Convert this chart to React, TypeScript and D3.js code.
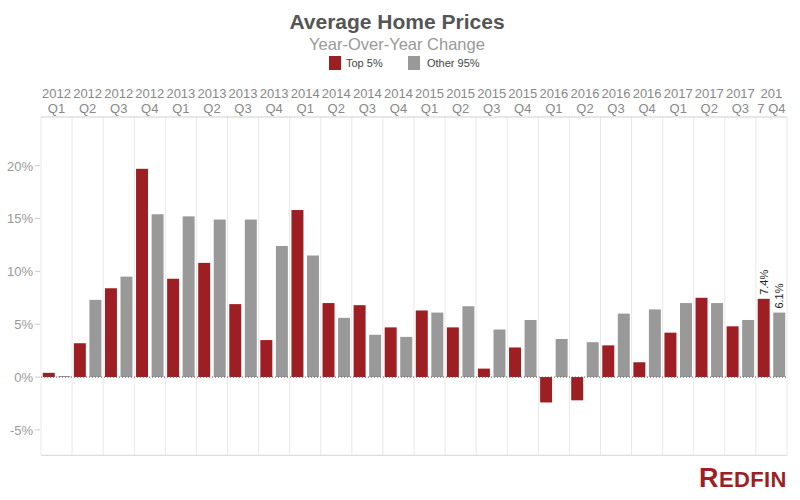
import React from "react";
import * as d3 from "d3";

const periods = ["2012Q1","2012Q2","2012Q3","2012Q4","2013Q1","2013Q2","2013Q3","2013Q4","2014Q1","2014Q2","2014Q3","2014Q4","2015Q1","2015Q2","2015Q3","2015Q4","2016Q1","2016Q2","2016Q3","2016Q4","2017Q1","2017Q2","2017Q3","2017Q4"];
const yearLabels = ["2012","2012","2012","2012","2013","2013","2013","2013","2014","2014","2014","2014","2015","2015","2015","2015","2016","2016","2016","2016","2017","2017","2017","201"];
const quarterLabels = ["Q1","Q2","Q3","Q4","Q1","Q2","Q3","Q4","Q1","Q2","Q3","Q4","Q1","Q2","Q3","Q4","Q1","Q2","Q3","Q4","Q1","Q2","Q3","7 Q4"];
const top5 = [0.4, 3.2, 8.4, 19.7, 9.3, 10.8, 6.9, 3.5, 15.8, 7.0, 6.8, 4.7, 6.3, 4.7, 0.8, 2.8, -2.4, -2.2, 3.0, 1.4, 4.2, 7.5, 4.8, 7.4];
const other95 = [0.1, 7.3, 9.5, 15.4, 15.2, 14.9, 14.9, 12.4, 11.5, 5.6, 4.0, 3.8, 6.1, 6.7, 4.5, 5.4, 3.6, 3.3, 6.0, 6.4, 7.0, 7.0, 5.4, 6.1];
const series = ["Top 5%", "Other 95%"];
const yTicks = [-5, 0, 5, 10, 15, 20];
const labeledIndex = 23;

const RED = "#9e1f23";
const GRAY = "#999999";
const FONT = "'Liberation Sans', Arial, sans-serif";

export default function App() {
  const left = 41, right = 787, top = 117, bottom = 455.3;
  const x = d3.scaleBand<string>().domain(periods).range([left, right]).paddingInner(0).paddingOuter(0);
  const xs = d3.scaleBand<string>().domain(series).range([0, x.bandwidth()]).paddingInner(0.23).paddingOuter(0.115);
  const y = d3.scaleLinear().domain([-7.4, 24.6]).range([bottom, top]);
  const y0 = y(0);
  const values = [top5, other95];
  const colors = [RED, GRAY];

  return (
    <svg width={800} height={500} style={{ position: "absolute", left: 0, top: 0, background: "#fff" }} fontFamily={FONT}>
      <text x={397} y={29} textAnchor="middle" fontSize={21} fontWeight="bold" fill="#555">Average Home Prices</text>
      <text x={397} y={50} textAnchor="middle" fontSize={16.5} fill="#999">Year-Over-Year Change</text>
      {/* legend */}
      <rect x={329} y={56} width={12} height={14} fill={RED} />
      <text x={346} y={67} fontSize={11} fill="#444">Top 5%</text>
      <rect x={408} y={56} width={12} height={14} fill={GRAY} />
      <text x={427} y={67} fontSize={11} fill="#444">Other 95%</text>

      {/* column dividers */}
      {periods.map((p) => (
        <line key={"v" + p} x1={x(p)!} x2={x(p)!} y1={top} y2={bottom} stroke="#e8e8e8" strokeWidth={1} />
      ))}
      <line x1={right} x2={right} y1={top} y2={bottom} stroke="#e8e8e8" />
      <line x1={left} x2={right} y1={top} y2={top} stroke="#cfcfcf" />
      <line x1={left} x2={right} y1={bottom} y2={bottom} stroke="#d6d6d6" />

      {/* header labels */}
      {periods.map((p, i) => (
        <g key={"h" + p}>
          <text x={x(p)! + x.bandwidth() / 2} y={98} textAnchor="middle" fontSize={13} fill="#888">{yearLabels[i]}</text>
          <text x={x(p)! + x.bandwidth() / 2} y={113} textAnchor="middle" fontSize={13} fill="#888">{quarterLabels[i]}</text>
        </g>
      ))}

      {/* y axis */}
      {yTicks.map((t) => (
        <g key={"t" + t}>
          <line x1={35} x2={40} y1={y(t)} y2={y(t)} stroke="#ccc" />
          <text x={33} y={y(t) + 5} textAnchor="end" fontSize={13} fill="#999">{t + "%"}</text>
        </g>
      ))}

      {/* bars */}
      {periods.map((p, i) => (
        <g key={"b" + p}>
          {series.map((s, k) => {
            const v = values[k][i];
            const bx = x(p)! + xs(s)!;
            return (
              <rect key={s} x={bx} width={xs.bandwidth()} y={Math.min(y(v), y0)} height={Math.max(1, Math.abs(y(v) - y0))} fill={colors[k]} />
            );
          })}
        </g>
      ))}

      <line x1={left} x2={right} y1={y0} y2={y0} stroke="#555" strokeDasharray="1,2" />

      {/* value labels */}
      {series.map((s, k) => {
        const v = values[k][labeledIndex];
        const cx = x(periods[labeledIndex])! + xs(s)! + xs.bandwidth() / 2 + 4;
        const ty = y(v) - 4;
        return (
          <text key={"l" + s} transform={`translate(${cx},${ty}) rotate(-90)`} fontSize={11} fill="#222">{v.toFixed(1) + "%"}</text>
        );
      })}

      {/* logo */}
      <text x={699} y={487} fontSize={22} fontWeight="bold" fill={RED} letterSpacing={0.4}>
        <tspan fontSize={27}>R</tspan>EDFIN
      </text>
    </svg>
  );
}
